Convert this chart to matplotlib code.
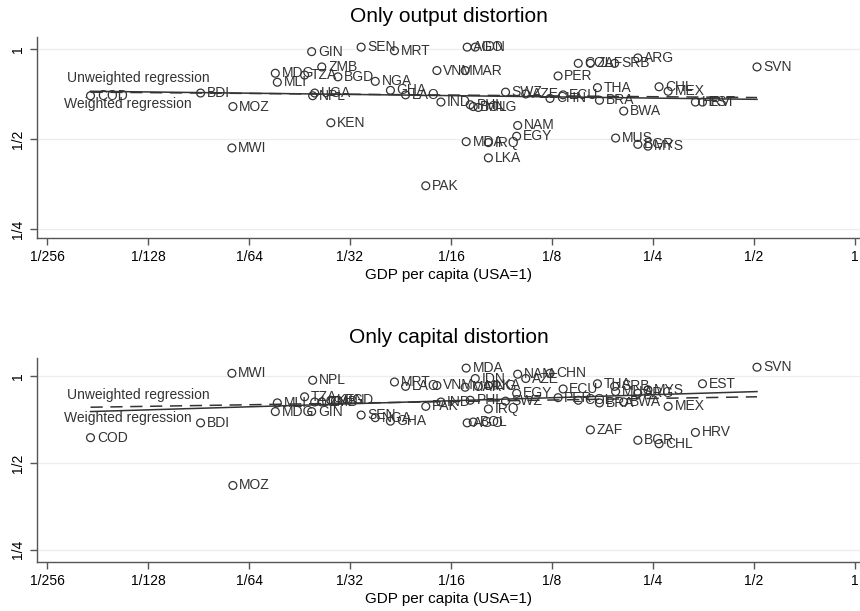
import numpy as np
import matplotlib
matplotlib.use("Agg")
import matplotlib.pyplot as plt

plt.rcParams['font.family'] = ['Liberation Sans', 'DejaVu Sans']

# country codes (same order in both panels)
countries = ["COD", "BDI", "MOZ", "MWI", "MDG", "MLI", "TZA", "GIN", "ZMB", "UGA",
             "NPL", "BGD", "KEN", "SEN", "MRT", "NGA", "GHA", "LAO", "PAK", "VNM",
             "IND", "MAR", "AGO", "IDN", "MDA", "PHL", "BOL", "MNG", "IRQ", "LKA",
             "SWZ", "NAM", "EGY", "AZE", "CHN", "ECU", "PER", "COL", "ZAF", "SRB",
             "THA", "BRA", "BWA", "MUS", "ARG", "BGR", "MYS", "CHL", "MEX", "HRV",
             "EST", "SVN"]

# log2 of GDP per capita relative to USA
gdp_log2 = [-7.57, -6.48, -6.16, -6.17, -5.74, -5.72, -5.45, -5.38, -5.28, -5.35,
            -5.37, -5.12, -5.19, -4.89, -4.56, -4.75, -4.60, -4.45, -4.25, -4.14,
            -4.10, -3.86, -3.84, -3.76, -3.85, -3.81, -3.78, -3.73, -3.63, -3.63,
            -3.46, -3.34, -3.35, -3.26, -3.02, -2.89, -2.94, -2.74, -2.62, -2.38,
            -2.55, -2.53, -2.29, -2.37, -2.15, -2.15, -2.05, -1.94, -1.85, -1.58,
            -1.51, -0.97]

# log2 of TFP gain, only output distortion
output_log2 = [-0.52, -0.49, -0.64, -1.10, -0.27, -0.37, -0.29, -0.03, -0.20, -0.49,
               -0.52, -0.31, -0.82, 0.02, -0.02, -0.36, -0.46, -0.51, -1.52, -0.24,
               -0.59, -0.24, 0.02, 0.02, -1.03, -0.62, -0.64, -0.65, -1.04, -1.21,
               -0.48, -0.85, -0.97, -0.50, -0.55, -0.51, -0.30, -0.16, -0.16, -0.16,
               -0.43, -0.57, -0.69, -0.99, -0.10, -1.06, -1.08, -0.42, -0.47, -0.59,
               -0.59, -0.20]

# log2 of TFP gain, only capital distortion
capital_log2 = [-0.71, -0.54, -1.26, 0.03, -0.41, -0.31, -0.24, -0.41, -0.30, -0.30,
                -0.05, -0.28, -0.28, -0.45, -0.07, -0.48, -0.52, -0.12, -0.35, -0.11,
                -0.30, -0.13, -0.54, -0.03, 0.09, -0.28, -0.53, -0.12, -0.38, -0.11,
                -0.29, 0.02, -0.20, -0.03, 0.03, -0.15, -0.25, -0.28, -0.62, -0.12,
                -0.09, -0.31, -0.30, -0.18, -0.20, -0.74, -0.16, -0.78, -0.35, -0.65,
                -0.09, 0.10]

# regression line end points (x range, then y at both ends)
reg_x = [-7.57, -0.97]
output_unweighted = [-0.48, -0.54]
output_weighted = [-0.47, -0.56]
capital_unweighted = [-0.36, -0.24]
capital_weighted = [-0.41, -0.18]

xticks = [-8, -7, -6, -5, -4, -3, -2, -1, 0]
xticklabels = ["1/256", "1/128", "1/64", "1/32", "1/16", "1/8", "1/4", "1/2", "1"]
yticks = [-2, -1, 0]
yticklabels = ["1/4", "1/2", "1"]

ink = "#333333"

fig = plt.figure(figsize=(8.6, 6.11), dpi=100)
ax1 = fig.add_axes([0.043, 0.6105, 0.957, 0.329])
ax2 = fig.add_axes([0.043, 0.0802, 0.957, 0.334])


def draw_panel(ax, yvals, unw, wtd, title, ylim, lab_y):
    for y in yticks:
        ax.axhline(y, color="#eaeeee", lw=0.9, zorder=0)
    ax.plot(reg_x, unw, color=ink, lw=1.1, ls=(0, (8, 5)), zorder=2)
    ax.plot(reg_x, wtd, color=ink, lw=1.1, zorder=2)
    ax.scatter(gdp_log2, yvals, s=32, facecolors="none", edgecolors=ink,
               linewidths=0.9, zorder=3)
    for c, x, y in zip(countries, gdp_log2, yvals):
        ax.annotate(c, (x, y), xytext=(4.5, 0), textcoords="offset points",
                    ha="left", va="center", fontsize=10, color=ink)
    ax.text(-7.80, lab_y[0], "Unweighted regression", fontsize=10, color=ink,
            ha="left", va="center")
    ax.text(-7.83, lab_y[1], "Weighted regression", fontsize=10, color=ink,
            ha="left", va="center")
    ax.set_xlim(-8.10, 0.05)
    ax.set_ylim(*ylim)
    ax.set_xticks(xticks)
    ax.set_xticklabels(xticklabels, fontsize=10)
    ax.set_yticks(yticks)
    ax.set_yticklabels(yticklabels, fontsize=10, rotation=90, va="center")
    ax.spines["top"].set_visible(False)
    ax.spines["right"].set_visible(False)
    for s in ("left", "bottom"):
        ax.spines[s].set_color("#555555")
        ax.spines[s].set_linewidth(1.0)
    ax.tick_params(colors="#555555", labelcolor="black", length=5, width=1.0)
    ax.set_title(title, fontsize=15, pad=11)
    ax.set_xlabel("GDP per capita (USA=1)", fontsize=11, labelpad=3)


draw_panel(ax1, output_log2, output_unweighted, output_weighted,
           "Only output distortion", (-2.1, 0.133), (-0.32, -0.61))
draw_panel(ax2, capital_log2, capital_unweighted, capital_weighted,
           "Only capital distortion", (-2.14, 0.207), (-0.22, -0.48))

fig.savefig("out.png", dpi=100)
